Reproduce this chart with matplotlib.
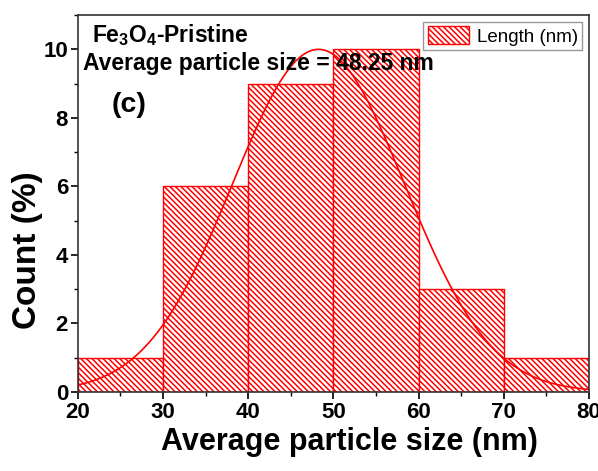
import numpy as np
import matplotlib
matplotlib.use("Agg")
import matplotlib.pyplot as plt
from matplotlib.ticker import MultipleLocator

bin_left = [20, 30, 40, 50, 60, 70]
counts = [1, 6, 9, 10, 3, 1]
bin_width = 10
fit_mean = 48.25
fit_sigma = 10.1
fit_amp = 10.0

plt.rcParams['font.family'] = ['Liberation Sans', 'DejaVu Sans']
plt.rcParams['mathtext.fontset'] = 'custom'
plt.rcParams['mathtext.bf'] = 'Liberation Sans:bold'
plt.rcParams['mathtext.rm'] = 'Liberation Sans'
plt.rcParams['hatch.linewidth'] = 1.1
plt.rcParams['hatch.color'] = 'red'

fig = plt.figure(figsize=(5.98, 4.71), dpi=100)
ax = fig.add_axes([0.130, 0.168, 0.855, 0.800])

ax.bar(bin_left, counts, width=bin_width, align='edge', facecolor='white',
       edgecolor='red', hatch='\\' * 6, linewidth=1.0, label='Length (nm)')
xs = np.linspace(20, 80, 400)
ax.plot(xs, fit_amp * np.exp(-(xs - fit_mean) ** 2 / (2 * fit_sigma ** 2)), color='red', lw=1.2)

ax.set_xlim(20, 80)
ax.set_ylim(0, 11)
ax.xaxis.set_major_locator(MultipleLocator(10))
ax.xaxis.set_minor_locator(MultipleLocator(5))
ax.yaxis.set_major_locator(MultipleLocator(2))
ax.yaxis.set_minor_locator(MultipleLocator(1))
ax.tick_params(which='major', direction='out', length=5, width=1.2, labelsize=16, pad=2)
ax.tick_params(which='minor', direction='out', length=3, width=1.0)
for lab in ax.get_xticklabels() + ax.get_yticklabels():
    lab.set_fontweight('bold')
for s in ax.spines.values():
    s.set_linewidth(1.2)
    s.set_color('#333333')

ax.set_xlabel('Average particle size (nm)', fontsize=22, fontweight='bold')
ax.xaxis.set_label_coords(0.532, -0.092)
ax.set_ylabel('Count (%)', fontsize=24, fontweight='bold')
ax.yaxis.set_label_coords(-0.068, 0.377)

ax.text(0.027, 0.928, r'Fe$_\mathbf{3}$O$_\mathbf{4}$-Pristine', transform=ax.transAxes,
        fontsize=16.5, fontweight='bold', va='baseline', ha='left')
ax.text(0.0098, 0.854, 'Average particle size = 48.25 nm', transform=ax.transAxes,
        fontsize=16.5, fontweight='bold', va='baseline', ha='left')
ax.text(0.0665, 0.743, '(c)', transform=ax.transAxes, fontsize=20.5, fontweight='bold',
        va='baseline', ha='left')

leg = ax.legend(loc='upper right', fontsize=13.5, fancybox=False, edgecolor='gray',
                borderaxespad=0.35, handlelength=2.2, handleheight=1.1,
                borderpad=0.25, handletextpad=0.4)
leg.get_frame().set_linewidth(1.0)

fig.savefig('out.png', dpi=100)
